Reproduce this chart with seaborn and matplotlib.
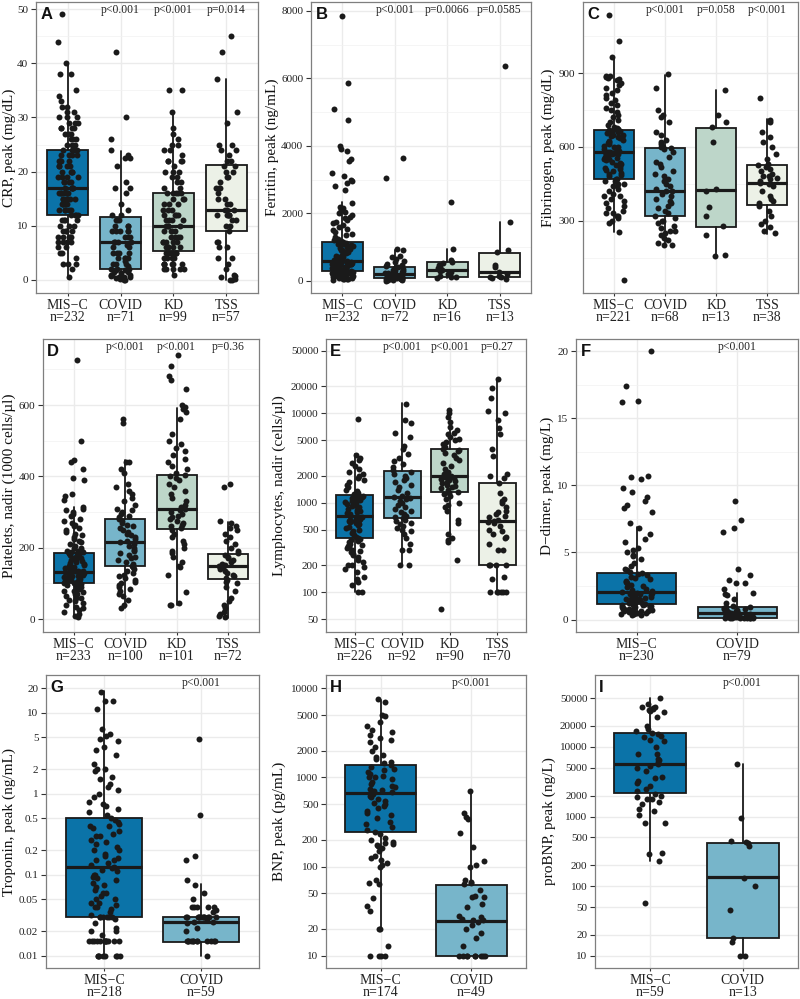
import numpy as np
import pandas as pd
import matplotlib
matplotlib.use("Agg")
import matplotlib.pyplot as plt
import seaborn as sns
from matplotlib.ticker import MultipleLocator, NullLocator, NullFormatter

sns.set_theme(
    style="whitegrid",
    rc={
        "axes.edgecolor": "#7F7F7F",
        "grid.color": "#EBEBEB",
        "xtick.bottom": True,
        "ytick.left": True,
    },
)
plt.rcParams["font.family"] = ["Liberation Serif", "DejaVu Serif"]

# ---------------------------------------------------------
# groups / colours

groups4 = ["MIS−C", "COVID", "KD", "TSS"]
groups2 = ["MIS−C", "COVID"]
fills = {"MIS−C": "#0B73A8", "COVID": "#77B5CA", "KD": "#BDD6C9", "TSS": "#ECF1E7"}

# ---------------------------------------------------------
# A  CRP, peak (mg/dL)

crp_n = [232, 71, 99, 57]
crp_p = ["p<0.001", "p<0.001", "p=0.014"]
crp_q1 = [12, 2, 5.3, 9]
crp_med = [17, 7, 10, 13]
crp_q3 = [24, 11.6, 16, 21.2]
crp_lo = [0.5, 0, 1.3, 0]
crp_hi = [40, 23.8, 31, 37]
crp_misc = [0.5, 2, 3, 3, 3, 4, 5, 5, 6, 6, 7, 7, 7, 7, 8, 8, 8, 8, 8, 9, 9, 9, 9, 10, 10, 10, 11, 11, 11, 11,
            12, 12, 12, 12, 13, 13, 13, 13, 13, 14, 14, 14, 14, 14, 15, 15, 15, 15, 15, 15, 16, 16, 16, 16, 16, 16, 17, 17, 17, 17,
            17, 18, 18, 18, 18, 19, 19, 19, 19, 20, 20, 20, 20, 21, 21, 21, 21, 22, 22, 22, 22, 22, 23, 23, 23, 23, 24, 24, 24, 24,
            25, 25, 25, 26, 26, 26, 27, 27, 27, 28, 28, 28, 28, 29, 29, 29, 30, 30, 30, 31, 31, 32, 32, 33, 34, 35, 38, 38, 40, 44, 49]
crp_covid = [0, 0, 0.2, 0.3, 0.5, 0.5, 0.6, 0.8, 1, 1, 1, 1.2, 1.5, 1.5, 1.8, 1.8, 2, 2,
             2, 2.5, 3, 3, 3, 3.5, 4, 4, 4, 4, 5, 5, 5, 5, 6, 6, 6.5, 7,
             7, 7, 7, 8, 8, 8, 9, 9, 9, 9, 9, 10, 10, 10, 11, 11, 11,
             12, 12, 13, 14, 16, 17, 17, 18, 21, 22.5, 22.5, 23, 24, 26, 30, 42]
crp_kd = [1, 2, 2, 2, 2, 2, 3, 3, 3, 3, 3, 3, 4, 4, 4, 4, 4, 5, 5, 5, 5, 5, 5,
          6, 6, 6, 6, 6, 7, 7, 7, 7, 7, 8, 8, 8, 8, 9, 9, 9, 9, 10, 10, 10, 10,
          11, 11, 11, 11, 12, 12, 12, 12, 13, 13, 13, 14, 14, 14, 15, 15, 15, 16, 16, 16, 16, 16,
          17, 17, 18, 18, 19, 19, 20, 20, 20, 21, 22, 22, 22, 22, 23, 24, 24, 25, 25, 26, 27, 28, 31, 35, 35]
crp_tss = [0, 0, 0.2, 0.5, 0.7, 1, 2, 3, 4, 4, 6, 6, 7, 7,
           9, 10, 10, 11, 11, 12, 12, 12, 12, 12, 13, 13, 13,
           14, 14, 15, 15, 16, 17, 17, 17, 18, 19, 19, 20, 20, 21,
           21, 22, 22, 23, 24, 24, 25, 25, 29, 31, 37, 42, 45]

# ---------------------------------------------------------
# B  Ferritin, peak (ng/mL)

fer_n = [232, 72, 16, 13]
fer_p = ["p<0.001", "p=0.0066", "p=0.0585"]
fer_q1 = [294, 75, 127, 117]
fer_med = [580, 190, 313, 274]
fer_q3 = [1160, 411, 558, 832]
fer_lo = [30, 10, 80, 50]
fer_hi = [2350, 900, 930, 1733]
fer_misc = [30, 40, 50, 50, 60, 70, 80, 90, 100, 100, 120, 130, 150, 150, 160, 180, 190, 200, 200, 210, 220, 230, 240, 250, 260, 270, 280, 290,
            300, 310, 320, 340, 350, 360, 380, 390, 400, 400, 420, 430, 450, 460, 470, 480, 490, 500, 500, 510, 520, 530, 540, 550, 550, 560, 560,
            580, 600, 620, 650, 680, 700, 720, 750, 780, 800, 820, 850, 880, 900, 920, 950, 980, 1000, 1020, 1050, 1080, 1100, 1100, 1120, 1150, 1170, 1170,
            1200, 1250, 1300, 1350, 1400, 1450, 1500, 1550, 1600, 1650, 1700, 1750, 1800, 1850, 1900, 1950, 2000, 2050, 2100, 2150, 2200, 2300,
            2700, 2800, 2900, 2950, 3000, 3100, 3200, 3550, 3600, 3850, 3900, 4000, 4750, 5100, 5850, 7850]
fer_covid = [10, 20, 20, 30, 30, 40, 40, 50, 50, 60, 60, 70, 70, 80, 80, 90, 100, 100, 110, 120, 120, 130, 140, 150, 150, 160, 170,
             180, 190, 200, 210, 220, 240, 250, 260, 280, 300, 320, 350, 380, 400, 420, 450, 480, 500, 550, 600, 650, 700, 750,
             900, 950, 3050, 3650]
fer_kd = [80, 100, 110, 150, 200, 250, 280, 320, 380, 420, 480, 520, 560, 620, 940, 2350]
fer_tss = [50, 70, 100, 120, 150, 200, 270, 420, 480, 850, 900, 1730, 6350]

# ---------------------------------------------------------
# C  Fibrinogen, peak (mg/dL)

fib_n = [221, 68, 13, 38]
fib_p = ["p<0.001", "p=0.058", "p<0.001"]
fib_q1 = [468, 320, 276, 363]
fib_med = [578, 421, 424, 454]
fib_q3 = [669, 595, 676, 528]
fib_lo = [253, 199, 155, 246]
fib_hi = [965, 891, 830, 712]
fib_misc = [60, 255, 290, 300, 310, 320, 320, 330, 330, 340, 350, 360, 370, 380, 390, 400, 400, 410, 420, 430, 440, 440, 450, 450, 460, 460, 470, 470,
            480, 485, 490, 495, 500, 505, 510, 515, 520, 525, 530, 535, 540, 545, 550, 550, 555, 560, 560, 565, 570, 570, 575, 575, 578, 578, 580,
            585, 590, 595, 600, 600, 605, 610, 615, 620, 625, 630, 635, 640, 640, 645, 650, 650, 655, 660, 660, 665, 665, 670, 670, 672, 675, 680,
            690, 700, 710, 720, 730, 740, 750, 760, 770, 780, 790, 800, 810, 820, 830, 840, 850, 860, 870, 875, 880, 885, 890, 890, 965, 1030, 1135]
fib_covid = [200, 200, 210, 220, 230, 240, 250, 260, 260, 270, 280, 290, 300, 300, 310, 320,
             330, 340, 350, 360, 370, 380, 390, 400, 410, 420, 420,
             430, 440, 450, 460, 470, 480, 490, 500, 520, 530, 540, 560, 580, 590, 595, 600, 600,
             610, 620, 630, 650, 660, 700, 720, 730, 750, 840, 895]
fib_kd = [155, 160, 240, 280, 320, 355, 420, 430, 620, 680, 700, 730, 830]
fib_tss = [248, 260, 275, 285, 300, 320, 340, 360, 370, 380, 390, 400, 420, 440, 450, 455, 460, 470, 475, 480, 480,
           490, 500, 510, 520, 525, 530, 550, 570, 600, 620, 640, 660, 700, 705, 710, 800]

# ---------------------------------------------------------
# D  Platelets, nadir (1000 cells/ul)

plt_n = [233, 100, 101, 72]
plt_p = ["p<0.001", "p<0.001", "p=0.36"]
plt_q1 = [100, 149, 252, 113]
plt_med = [133, 216, 310, 149]
plt_q3 = [186, 282, 405, 182]
plt_lo = [5, 30, 40, 3]
plt_hi = [315, 445, 593, 271]
plt_misc = [5, 10, 15, 20, 25, 30, 35, 40, 45, 50, 55, 60, 60, 65, 70, 70, 75, 80, 80, 85, 85, 90, 90, 92, 95, 95, 98, 100,
            100, 102, 104, 105, 107, 108, 110, 112, 113, 115, 116, 118, 120, 121, 122, 124, 125, 126, 128, 129, 130, 131, 132, 133, 134, 135, 135,
            137, 140, 142, 145, 147, 150, 152, 155, 157, 160, 162, 165, 167, 170, 172, 175, 177, 180, 182, 184, 185, 186, 187, 188, 188, 190, 192,
            195, 200, 200, 205, 210, 215, 220, 225, 230, 235, 240, 245, 250, 255, 260, 265, 270, 275, 280, 290, 295, 300, 305, 310, 315,
            335, 345, 350, 390, 395, 420, 440, 445, 500, 725]
plt_covid = [30, 40, 55, 65, 70, 80, 85, 90, 95, 100, 105, 110, 115, 120, 125, 130, 135, 140, 145, 150,
             155, 160, 165, 170, 175, 180, 185, 190, 195, 200, 205, 210, 215,
             220, 225, 230, 235, 240, 245, 250, 255, 260, 265, 270, 275, 280, 285,
             290, 295, 300, 305, 310, 320, 330, 340, 350, 360, 370, 380, 410, 420, 440, 440, 550, 560]
plt_kd = [40, 40, 45, 75, 125, 145, 150, 160, 175, 185, 190, 200, 210, 220, 230, 240, 250, 255,
          260, 265, 270, 275, 280, 285, 290, 295, 300, 305, 310,
          315, 320, 330, 340, 350, 360, 370, 380, 390, 395, 400, 405,
          410, 420, 430, 440, 450, 460, 470, 480, 490, 500, 520, 560, 580, 590, 595, 600, 645, 670, 680, 710, 740]
plt_tss = [5, 10, 15, 20, 30, 40, 50, 60, 80, 90, 100, 105, 110,
           115, 120, 125, 130, 135, 140, 145, 150, 152,
           155, 160, 165, 170, 175, 180, 185,
           190, 200, 210, 220, 230, 240, 250, 255, 260, 270, 275, 370, 380]

# ---------------------------------------------------------
# E  Lymphocytes, nadir (cells/ul)

lym_n = [226, 92, 90, 70]
lym_p = ["p<0.001", "p<0.001", "p=0.27"]
lym_q1 = [401, 682, 1332, 202]
lym_med = [718, 1172, 2010, 627]
lym_q3 = [1233, 2266, 3985, 1679]
lym_lo = [100, 200, 360, 100]
lym_hi = [3480, 13000, 10500, 23900]
lym_misc = [100, 100, 120, 130, 140, 150, 170, 180, 190, 200, 200, 220, 230, 250, 260, 270, 280, 290, 300, 310, 320, 330, 340, 350, 360, 370, 380, 390,
            400, 420, 440, 460, 480, 500, 520, 540, 560, 580, 600, 610, 620, 630, 640, 650, 660, 670, 680, 690, 700,
            720, 740, 760, 780, 800, 820, 850, 870, 900, 920, 950, 980, 1000, 1020, 1050, 1080, 1100, 1120, 1150, 1180, 1200,
            1250, 1300, 1350, 1400, 1500, 1600, 1700, 1800, 1900, 2000, 2100, 2200, 2400, 2600, 2800, 3000, 3200, 3400, 8600]
lym_covid = [200, 200, 300, 300, 350, 400, 450, 480, 500, 520, 550, 580, 600, 620, 650,
             680, 700, 720, 750, 780, 800, 850, 900, 950, 1000, 1050, 1100, 1120,
             1150, 1200, 1300, 1400, 1500, 1600, 1700, 1800, 1900, 2000, 2100, 2200,
             2300, 2500, 2700, 2900, 3200, 3500, 4000, 4300, 5500, 6000, 7800, 8500, 12800]
lym_kd = [65, 230, 360, 380, 400, 450, 600, 650, 800, 900, 950, 1000, 1100, 1200, 1250, 1300, 1330,
          1400, 1450, 1500, 1550, 1600, 1650, 1700, 1750, 1800, 1850, 1900, 1950, 1980,
          2000, 2100, 2200, 2400, 2600, 2800, 3000, 3200, 3400, 3600, 3800, 3900,
          4000, 4200, 4500, 4800, 5000, 5200, 5500, 5800, 6000, 6500, 7000, 8000, 9000, 10000, 11000]
lym_tss = [100, 100, 100, 100, 100, 100, 140, 150, 200, 200, 200, 200,
           300, 300, 350, 400, 420, 450, 480, 500, 550, 600, 610,
           620, 650, 700, 720, 750, 780, 800, 900, 1000, 1050, 1100, 1300, 1650,
           1900, 2000, 2100, 3300, 4000, 5800, 6800, 8500, 10000, 10500, 15000, 19000, 24000]

# ---------------------------------------------------------
# F  D-dimer, peak (mg/L)

dd_n = [230, 79]
dd_p = ["p<0.001"]
dd_q1 = [1.19, 0.15]
dd_med = [2.06, 0.5]
dd_q3 = [3.5, 0.94]
dd_lo = [0.3, 0.1]
dd_hi = [6.9, 2.0]
dd_misc = [0.3, 0.35, 0.4, 0.4, 0.45, 0.5, 0.5, 0.55, 0.6, 0.6, 0.65, 0.7, 0.7, 0.75, 0.8, 0.8, 0.85, 0.9, 0.9, 0.95, 1.0, 1.0, 1.05, 1.1, 1.1, 1.15, 1.2, 1.25,
           1.3, 1.35, 1.4, 1.45, 1.5, 1.5, 1.55, 1.6, 1.65, 1.7, 1.7, 1.75, 1.8, 1.85, 1.9, 1.9, 1.95, 2.0, 2.05,
           2.1, 2.2, 2.3, 2.4, 2.5, 2.6, 2.7, 2.8, 2.9, 3.0, 3.1, 3.2, 3.3, 3.4, 3.5, 3.55,
           3.7, 3.8, 4.0, 4.2, 4.5, 4.7, 4.8, 5.0, 5.2, 5.3, 5.8, 6.0, 6.4, 6.8, 7.2, 8.0, 8.3, 8.5, 8.8, 9.1, 9.5, 9.8,
           10.5, 10.6, 10.7, 16.2, 16.3, 17.4, 20]
dd_covid = [0.1, 0.1, 0.1, 0.1, 0.12, 0.12, 0.15, 0.15, 0.15, 0.18, 0.18, 0.2, 0.2,
            0.22, 0.25, 0.25, 0.28, 0.3, 0.3, 0.32, 0.35, 0.35, 0.38, 0.4, 0.4,
            0.45, 0.5, 0.5, 0.55, 0.6, 0.65, 0.7, 0.75, 0.8, 0.85, 0.9, 0.95,
            1.0, 1.2, 1.5, 1.8, 1.9, 2.0, 2.3, 2.7, 2.7, 2.95, 3.3, 3.75, 6.5, 6.8, 7.4, 8.8]

# ---------------------------------------------------------
# G  Troponin, peak (ng/mL)

tro_n = [218, 59]
tro_p = ["p<0.001"]
tro_q1 = [0.0297, 0.0149]
tro_med = [0.1256, 0.0258]
tro_q3 = [0.506, 0.0297]
tro_lo = [0.01, 0.01]
tro_hi = [18.7, 0.0767]
tro_misc = [0.01, 0.01, 0.01, 0.01, 0.01, 0.01, 0.01, 0.01,
            0.015, 0.015, 0.015, 0.015, 0.015, 0.015, 0.015, 0.015, 0.015, 0.015, 0.015, 0.015,
            0.018, 0.02, 0.02, 0.022, 0.025, 0.028, 0.03, 0.03, 0.03, 0.03, 0.03, 0.03,
            0.032, 0.035, 0.038, 0.04, 0.04, 0.042, 0.045, 0.045, 0.05, 0.05, 0.055, 0.06, 0.06, 0.065, 0.07, 0.075,
            0.08, 0.085, 0.09, 0.095, 0.1, 0.1, 0.11, 0.115, 0.12, 0.125,
            0.13, 0.14, 0.15, 0.15, 0.16, 0.17, 0.18, 0.2, 0.2, 0.22, 0.24, 0.25, 0.27, 0.3, 0.3, 0.32, 0.35, 0.38, 0.4, 0.4,
            0.42, 0.45, 0.48, 0.5,
            0.55, 0.6, 0.65, 0.7, 0.75, 0.8, 0.9, 1.0, 1.1, 1.2, 1.3, 1.5, 1.6, 1.9, 2.0, 2.0, 2.3, 3.0, 3.5, 3.8,
            4.5, 4.8, 5.2, 5.5, 6.3, 11, 14, 14, 18]
tro_covid = [0.01, 0.015, 0.015, 0.015, 0.015, 0.015, 0.015, 0.015, 0.015, 0.015, 0.015, 0.015, 0.015,
             0.02, 0.022, 0.025, 0.026, 0.026, 0.028,
             0.03, 0.03, 0.03, 0.03, 0.03, 0.03, 0.03, 0.03, 0.03, 0.03, 0.03, 0.03,
             0.035, 0.037, 0.04, 0.04, 0.04, 0.04, 0.04, 0.05, 0.06, 0.075, 0.085, 0.15, 0.17, 0.55, 4.8]

# ---------------------------------------------------------
# H  BNP, peak (pg/mL)

bnp_n = [174, 49]
bnp_p = ["p<0.001"]
bnp_q1 = [246, 10]
bnp_med = [675, 24.5]
bnp_q3 = [1380, 62]
bnp_lo = [20.3, 10]
bnp_hi = [7400, 692]
bnp_misc = [10, 10, 10, 10, 13, 20, 20, 32, 36, 44, 63, 65, 70, 100, 105, 110, 120, 125, 130, 150, 160, 170, 175, 180, 185, 190, 200, 210, 230, 245,
            260, 280, 300, 320, 350, 380, 400, 420, 450, 480, 500, 520, 550, 580, 600, 620, 650,
            680, 700, 720, 750, 780, 800, 850, 900, 950, 1000, 1000, 1050, 1100, 1150, 1200, 1250, 1300, 1380,
            1450, 1500, 1600, 1700, 1800, 2000, 2200, 2500, 2600, 2800, 3000, 3200, 3400, 3800, 4200, 4900, 5000, 7000, 7500]
bnp_covid = [10, 10, 10, 10, 10, 10, 10, 10, 10, 13, 16, 18, 20, 22, 24, 25, 25, 26, 27, 28,
             35, 38, 45, 46, 47, 55, 63, 65, 68, 70, 100, 105, 115, 165, 235, 340, 360, 400, 700]

# ---------------------------------------------------------
# I  proBNP, peak (ng/L)

pro_n = [59, 13]
pro_p = ["p<0.001"]
pro_q1 = [2155, 18.1]
pro_med = [5690, 134]
pro_q3 = [16070, 421]
pro_lo = [232, 10]
pro_hi = [51100, 5690]
pro_misc = [57, 230, 290, 300, 800, 800, 1050, 1200, 1300, 1500, 1600, 1800, 1800, 1900, 2000, 2100,
            2300, 2500, 2700, 3000, 3200, 3600, 3700, 4500, 5000, 5300, 5600,
            6000, 6500, 6800, 7800, 8000, 10000, 12000, 12500, 14000, 14500, 15500, 16000,
            17000, 18000, 20000, 27000, 32000, 33000, 34000, 35000, 36000, 37000, 38000, 42000, 51000]
pro_covid = [10, 10, 16, 18, 45, 100, 130, 380, 420, 430, 440, 950, 5600]

# ---------------------------------------------------------
# panel table (pixel box = left, top, right, bottom; lab = x of y-label)

panels = [
    dict(letter="A", ylabel="CRP, peak (mg/dL)", groups=groups4, n=crp_n, p=crp_p,
         q1=crp_q1, med=crp_med, q3=crp_q3, lo=crp_lo, hi=crp_hi,
         points=[crp_misc, crp_covid, crp_kd, crp_tss], log=False,
         ylim=(-2.4, 51.3), ticks=[0, 10, 20, 30, 40, 50], minor=5,
         box=(36, 2, 258, 293), lab=16),
    dict(letter="B", ylabel="Ferritin, peak (ng/mL)", groups=groups4, n=fer_n, p=fer_p,
         q1=fer_q1, med=fer_med, q3=fer_q3, lo=fer_lo, hi=fer_hi,
         points=[fer_misc, fer_covid, fer_kd, fer_tss], log=False,
         ylim=(-360, 8260), ticks=[0, 2000, 4000, 6000, 8000], minor=1000,
         box=(311, 2, 531, 293), lab=279),
    dict(letter="C", ylabel="Fibrinogen, peak (mg/dL)", groups=groups4, n=fib_n, p=fib_p,
         q1=fib_q1, med=fib_med, q3=fib_q3, lo=fib_lo, hi=fib_hi,
         points=[fib_misc, fib_covid, fib_kd, fib_tss], log=False,
         ylim=(6, 1189), ticks=[300, 600, 900], minor=150,
         box=(583, 2, 798, 293), lab=555),
    dict(letter="D", ylabel="Platelets, nadir (1000 cells/µl)", groups=groups4, n=plt_n, p=plt_p,
         q1=plt_q1, med=plt_med, q3=plt_q3, lo=plt_lo, hi=plt_hi,
         points=[plt_misc, plt_covid, plt_kd, plt_tss], log=False,
         ylim=(-36, 785), ticks=[0, 200, 400, 600], minor=100,
         box=(43, 339, 259, 632), lab=16),
    dict(letter="E", ylabel="Lymphocytes, nadir (cells/µl)", groups=groups4, n=lym_n, p=lym_p,
         q1=lym_q1, med=lym_med, q3=lym_q3, lo=lym_lo, hi=lym_hi,
         points=[lym_misc, lym_covid, lym_kd, lym_tss], log=True,
         ylim=(36, 67600), ticks=[50, 100, 200, 500, 1000, 2000, 5000, 10000, 20000, 50000],
         minor=None, box=(326, 339, 526, 632), lab=286),
    dict(letter="F", ylabel="D−dimer, peak (mg/L)", groups=groups2, n=dd_n, p=dd_p,
         q1=dd_q1, med=dd_med, q3=dd_q3, lo=dd_lo, hi=dd_hi,
         points=[dd_misc, dd_covid], log=False,
         ylim=(-0.93, 20.9), ticks=[0, 5, 10, 15, 20], minor=2.5,
         box=(576, 339, 798, 632), lab=554),
    dict(letter="G", ylabel="Troponin, peak (ng/mL)", groups=groups2, n=tro_n, p=tro_p,
         q1=tro_q1, med=tro_med, q3=tro_q3, lo=tro_lo, hi=tro_hi,
         points=[tro_misc, tro_covid], log=True,
         ylim=(0.00705, 29.2), ticks=[0.01, 0.02, 0.05, 0.1, 0.2, 0.5, 1, 2, 5, 10, 20],
         minor=None, box=(46, 675, 259, 968), lab=16),
    dict(letter="H", ylabel="BNP, peak (pg/mL)", groups=groups2, n=bnp_n, p=bnp_p,
         q1=bnp_q1, med=bnp_med, q3=bnp_q3, lo=bnp_lo, hi=bnp_hi,
         points=[bnp_misc, bnp_covid], log=True,
         ylim=(7.28, 14100), ticks=[10, 20, 50, 100, 200, 500, 1000, 2000, 5000, 10000],
         minor=None, box=(326, 675, 526, 968), lab=286),
    dict(letter="I", ylabel="proBNP, peak (ng/L)", groups=groups2, n=pro_n, p=pro_p,
         q1=pro_q1, med=pro_med, q3=pro_q3, lo=pro_lo, hi=pro_hi,
         points=[pro_misc, pro_covid], log=True,
         ylim=(6.66, 108000), ticks=[10, 20, 50, 100, 200, 500, 1000, 2000, 5000, 10000, 20000, 50000],
         minor=None, box=(595, 675, 798, 968), lab=556),
]

W, H = 800, 999
EDGE = "#1A1A1A"
TEXT = "#222222"

np.random.seed(3)  # jitter only

fig = plt.figure(figsize=(W / 100, H / 100), dpi=100)


def draw_panel(spec):

    l, t, r, b = spec["box"]
    ax = fig.add_axes([l / W, 1 - b / H, (r - l) / W, (b - t) / H])

    groups = spec["groups"]
    k = len(groups)

    stats = [
        dict(med=spec["med"][i], q1=spec["q1"][i], q3=spec["q3"][i],
             whislo=spec["lo"][i], whishi=spec["hi"][i], fliers=[])
        for i in range(k)
    ]

    art = ax.bxp(
        stats,
        positions=range(k),
        widths=0.78,
        patch_artist=True,
        showfliers=False,
        showcaps=False,
        manage_ticks=False,
        boxprops=dict(edgecolor=EDGE, linewidth=1.3),
        whiskerprops=dict(color=EDGE, linewidth=1.3),
        medianprops=dict(color=EDGE, linewidth=2.3),
    )
    for patch, g in zip(art["boxes"], groups):
        patch.set_facecolor(fills[g])

    df = pd.DataFrame({
        "group": np.repeat(groups, [len(v) for v in spec["points"]]),
        "value": np.concatenate([np.asarray(v, dtype=float) for v in spec["points"]]),
    })

    sns.stripplot(
        data=df,
        x="group",
        y="value",
        order=groups,
        jitter=0.2 if k == 4 else 0.16,
        color=EDGE,
        size=4.3,
        linewidth=0,
        zorder=3,
        ax=ax,
    )

    if spec["log"]:
        ax.set_yscale("log")
    ax.set_ylim(spec["ylim"])
    ax.set_yticks(spec["ticks"], labels=[f"{v:g}" for v in spec["ticks"]])
    if spec["minor"]:
        ax.yaxis.set_minor_locator(MultipleLocator(spec["minor"]))
    else:
        ax.yaxis.set_minor_locator(NullLocator())
    ax.yaxis.set_minor_formatter(NullFormatter())

    ax.set_xlim(-0.6, k - 0.4)
    ax.set_xticks(range(k), labels=[f"{g}\nn={n}" for g, n in zip(groups, spec["n"])])
    for lbl in ax.get_xticklabels():
        lbl.set_linespacing(0.98)
    ax.set_xlabel("")
    ax.set_ylabel(spec["ylabel"], fontsize=11, color="#111111")
    ax.yaxis.set_label_coords((spec["lab"] - l) / (r - l), 0.5)

    ax.tick_params(axis="x", which="major", labelsize=10, length=2.5, width=0.8,
                   color="#333333", labelcolor=TEXT, pad=1.5)
    ax.tick_params(axis="y", which="major", labelsize=8, length=3.5, width=0.8,
                   color="#333333", labelcolor=TEXT, pad=2)
    ax.tick_params(which="minor", length=0)

    ax.grid(True, which="major", color="#EBEBEB", linewidth=1.0)
    ax.grid(True, which="minor", axis="y", color="#F2F2F2", linewidth=0.5)
    ax.xaxis.grid(True, which="major", color="#EBEBEB", linewidth=1.0)
    ax.set_axisbelow(True)

    for side in ax.spines.values():
        side.set_visible(True)
        side.set_color("#7F7F7F")
        side.set_linewidth(0.9)

    for i, ptxt in enumerate(spec["p"]):
        ax.text(i + 1, 0.972, ptxt, transform=ax.get_xaxis_transform(),
                ha="center", va="center", fontsize=8.4, color=TEXT)

    ax.text(0.02, 0.958, spec["letter"], transform=ax.transAxes,
            ha="left", va="center", fontsize=12, fontweight="bold",
            family="Liberation Sans", color="#111111")


for spec in panels:
    draw_panel(spec)

fig.savefig("out.png", dpi=100)
